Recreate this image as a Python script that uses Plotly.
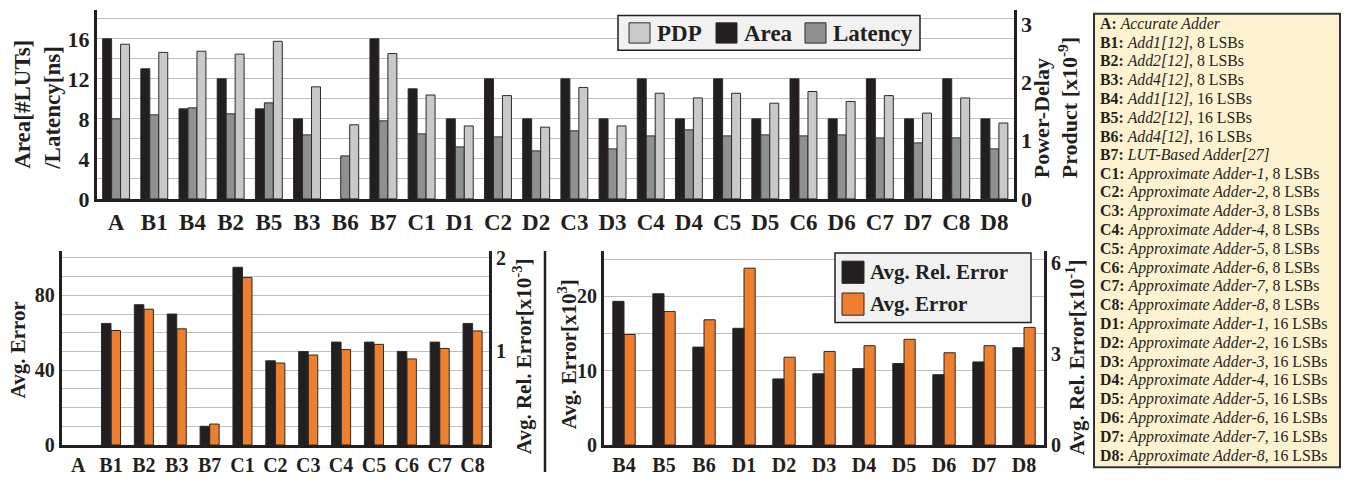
import plotly.graph_objects as go

W, H = 1345, 485
FONT = "Liberation Serif, Times New Roman, serif"
INK = "#231f20"

# ---------------- data ----------------
top_cats = ["A", "B1", "B4", "B2", "B5", "B3", "B6", "B7", "C1", "D1", "C2", "D2",
            "C3", "D3", "C4", "D4", "C5", "D5", "C6", "D6", "C7", "D7", "C8", "D8"]
area = [16, 13, 9, 12, 9, 8, 0, 16, 11, 8, 12, 8, 12, 8, 12, 8, 12, 8, 12, 8, 12, 8, 12, 8]
latency = [8.0, 8.4, 9.1, 8.5, 9.6, 6.4, 4.3, 7.8, 6.5, 5.2, 6.2, 4.8,
           6.8, 5.0, 6.3, 6.9, 6.3, 6.4, 6.3, 6.4, 6.1, 5.6, 6.1, 5.0]
pdp = [2.65, 2.51, 2.53, 2.48, 2.70, 1.92, 1.27, 2.49, 1.78, 1.25, 1.77, 1.23,
       1.91, 1.25, 1.81, 1.73, 1.81, 1.64, 1.84, 1.67, 1.77, 1.47, 1.73, 1.30]

bl_cats = ["A", "B1", "B2", "B3", "B7", "C1", "C2", "C3", "C4", "C5", "C6", "C7", "C8"]
bl_rel_err = [0, 1.3, 1.5, 1.4, 0.2, 1.9, 0.9, 1.0, 1.1, 1.1, 1.0, 1.1, 1.3]
bl_avg_err = [0, 61.2, 72.6, 62.1, 11.2, 89.5, 43.8, 48.1, 51.0, 53.8, 46.0, 51.6, 61.0]

br_cats = ["B4", "B5", "B6", "D1", "D2", "D3", "D4", "D5", "D6", "D7", "D8"]
br_rel_err = [4.74, 4.99, 3.23, 3.85, 2.18, 2.35, 2.52, 2.69, 2.32, 2.74, 3.21]
br_avg_err = [14.87, 17.97, 16.85, 23.79, 11.81, 12.59, 13.36, 14.22, 12.41, 13.36, 15.82]

key_codes = ["A", "B1", "B2", "B3", "B4", "B5", "B6", "B7",
             "C1", "C2", "C3", "C4", "C5", "C6", "C7", "C8",
             "D1", "D2", "D3", "D4", "D5", "D6", "D7", "D8"]
key_names = ["Accurate Adder", "Add1[12]", "Add2[12]", "Add4[12]", "Add1[12]", "Add2[12]",
             "Add4[12]", "LUT-Based Adder[27]"] + \
            ["Approximate Adder-%d" % i for i in range(1, 9)] + \
            ["Approximate Adder-%d" % i for i in range(1, 9)]
key_lsbs = ["", "8 LSBs", "8 LSBs", "8 LSBs", "16 LSBs", "16 LSBs", "16 LSBs", ""] + \
           ["8 LSBs"] * 8 + ["16 LSBs"] * 8

# ---------------- colours ----------------
C_AREA = "#231f20"
C_LAT = "#8f9091"
C_PDP = "#c9c9c9"
C_ORANGE = "#ee7f2f"
EDGE = "#2b2b2b"
LEG_BG = "#f1f1f1"


def edge(vals):
    # no outline stub for zero-height bars
    return dict(color=EDGE, width=[0 if v == 0 else 1 for v in vals])


fig = go.Figure()

# top chart bars
bw = 0.235
fig.add_trace(go.Bar(x=top_cats, y=area, name="Area", xaxis="x", yaxis="y",
                     marker=dict(color=C_AREA, line=edge(area)),
                     width=bw, offset=-1.5 * bw, showlegend=False))
fig.add_trace(go.Bar(x=top_cats, y=latency, name="Latency", xaxis="x", yaxis="y",
                     marker=dict(color=C_LAT, line=edge(latency)),
                     width=bw, offset=-0.5 * bw, showlegend=False))
fig.add_trace(go.Bar(x=top_cats, y=pdp, name="PDP", xaxis="x", yaxis="y2",
                     marker=dict(color=C_PDP, line=edge(pdp)),
                     width=bw, offset=0.5 * bw, showlegend=False))

# bottom-left bars
bw2 = 0.29
fig.add_trace(go.Bar(x=bl_cats, y=bl_rel_err, name="Avg. Rel. Error", xaxis="x2", yaxis="y4",
                     marker=dict(color=C_AREA, line=edge(bl_rel_err)),
                     width=bw2, offset=-bw2, showlegend=False))
fig.add_trace(go.Bar(x=bl_cats, y=bl_avg_err, name="Avg. Error", xaxis="x2", yaxis="y3",
                     marker=dict(color=C_ORANGE, line=edge(bl_avg_err)),
                     width=bw2, offset=0, showlegend=False))

# bottom-right bars
bw3 = 0.28
fig.add_trace(go.Bar(x=br_cats, y=br_rel_err, name="Avg. Rel. Error", xaxis="x3", yaxis="y6",
                     marker=dict(color=C_AREA, line=edge(br_rel_err)),
                     width=bw3, offset=-bw3, showlegend=False))
fig.add_trace(go.Bar(x=br_cats, y=br_avg_err, name="Avg. Error", xaxis="x3", yaxis="y5",
                     marker=dict(color=C_ORANGE, line=edge(br_avg_err)),
                     width=bw3, offset=0, showlegend=False))

GRID = "#bdbdbd"


def xax(d0, d1, anchor, size):
    return dict(domain=[d0 / W, d1 / W], anchor=anchor, type="category",
                showline=True, linewidth=3, linecolor=INK, ticks="",
                showgrid=False, zeroline=False,
                tickfont=dict(family=FONT, size=size, color=INK, weight="bold"))


def yax_left(top, bottom, anchor, rng, tickvals, minor_dtick, size):
    return dict(domain=[(H - bottom) / H, (H - top) / H], anchor=anchor, range=rng,
                tickvals=tickvals, showline=True, linewidth=3, linecolor=INK,
                ticks="", zeroline=False, showgrid=True, gridcolor=GRID, gridwidth=1,
                minor=dict(dtick=minor_dtick, tick0=0, showgrid=True, gridcolor=GRID, gridwidth=1),
                tickfont=dict(family=FONT, size=size, color=INK, weight="bold"))


def yax_right(overlay, anchor, rng, tickvals, size):
    return dict(overlaying=overlay, side="right", anchor=anchor, range=rng,
                tickvals=tickvals, showline=True, linewidth=3, linecolor=INK,
                ticks="", zeroline=False, showgrid=False,
                tickfont=dict(family=FONT, size=size, color=INK, weight="bold"))


layout = dict(
    width=W, height=H, margin=dict(l=0, r=0, t=0, b=0),
    paper_bgcolor="white", plot_bgcolor="rgba(0,0,0,0)",
    barmode="overlay", showlegend=False, hovermode=False,
    font=dict(family=FONT, color=INK),
    xaxis=xax(97, 1013.5, "y", 23),
    yaxis=yax_left(6, 202, "x", [0, 18.9], [0, 4, 8, 12, 16], 2, 22),
    yaxis2=yax_right("y", "x", [0, 3.24], [0, 1, 2, 3], 22),
    xaxis2=xax(61.7, 489, "y3", 20),
    yaxis3=yax_left(256, 457, "x2", [0, 103.7], [0, 40, 80], 10, 20),
    yaxis4=yax_right("y3", "x2", [0, 2.074], [1, 2], 20),
    xaxis3=xax(604, 1044, "y5", 20),
    yaxis5=yax_left(256, 457, "x3", [0, 26.1], [0, 10, 20], 5, 20),
    yaxis6=yax_right("y5", "x3", [0, 6.4], [0, 3, 6], 20),
)
fig.update_layout(**layout)


def px_x(v):
    return v / W


def px_y(v):
    return (H - v) / H


def prect(x0, y0, x1, y1, fill, lw, lc=INK):
    fig.add_shape(type="rect", xref="paper", yref="paper",
                  x0=px_x(x0), x1=px_x(x1), y0=px_y(y1), y1=px_y(y0),
                  fillcolor=fill, line=dict(color=lc, width=lw))


def ptext(txt, x, y, size, bold=True, anchor="left", angle=0):
    fig.add_annotation(text=txt, x=px_x(x), y=px_y(y), xref="paper", yref="paper",
                       xanchor=anchor, yanchor="middle", textangle=angle, showarrow=False,
                       align="left",
                       font=dict(family=FONT, size=size, color=INK,
                                 weight="bold" if bold else "normal"))


# axis titles
titles = [
    ("Area[#LUTs]<br>/Latency[ns]", 37.5, 105, 23),
    ("Power-Delay<br>Product [x10<sup>-9</sup>]", 1056, 108, 22),
    ("Avg. Error", 18, 359, 21),
    ("Avg. Rel. Error[x10<sup>-3</sup>]", 522, 365, 21),
    ("Avg. Error[x10<sup>3</sup>]", 567, 363, 21),
    ("Avg. Rel. Error[x10<sup>-1</sup>]", 1075, 366, 21),
]
for txt, px, py, sz in titles:
    ptext(txt, px, py, sz, anchor="center", angle=-90)

# top legend (PDP, Area, Latency)
prect(618, 12, 920, 48, LEG_BG, 1.5)
for name, col, sx in [("PDP", C_PDP, 629), ("Area", C_AREA, 716), ("Latency", C_LAT, 805)]:
    prect(sx, 19.5, sx + 21, 40.5, col, 1, EDGE)
    ptext(name, sx + 26, 30.5, 23)

# bottom-right legend
prect(835, 258, 1031, 330, LEG_BG, 1.5)
for name, col, cy in [("Avg. Rel. Error", C_AREA, 278), ("Avg. Error", C_ORANGE, 311)]:
    prect(842, cy - 11.5, 864, cy + 11.5, col, 1, EDGE)
    ptext(name, 868, cy, 21)

# separator line between the two bottom charts
fig.add_shape(type="line", xref="paper", yref="paper", x0=px_x(545), x1=px_x(545),
              y0=0, y1=px_y(256), line=dict(color=INK, width=2.5))

# key box
fig.add_shape(type="rect", xref="paper", yref="paper", x0=px_x(1094), x1=px_x(1340),
              y0=px_y(480), y1=px_y(10), fillcolor="#fdf2cf",
              line=dict(color="#333333", width=2), layer="below")
for i, (c, n, l) in enumerate(zip(key_codes, key_names, key_lsbs)):
    txt = "<b>%s:</b> <i>%s</i>" % (c, n) + ((", " + l) if l else "")
    ptext(txt, 1098, 20 + i * 19.48, 15.8, bold=False)

fig.write_html("out.html", config={"displayModeBar": False, "staticPlot": True},
               post_script="document.body.style.margin='0';document.body.style.overflow='hidden';")
